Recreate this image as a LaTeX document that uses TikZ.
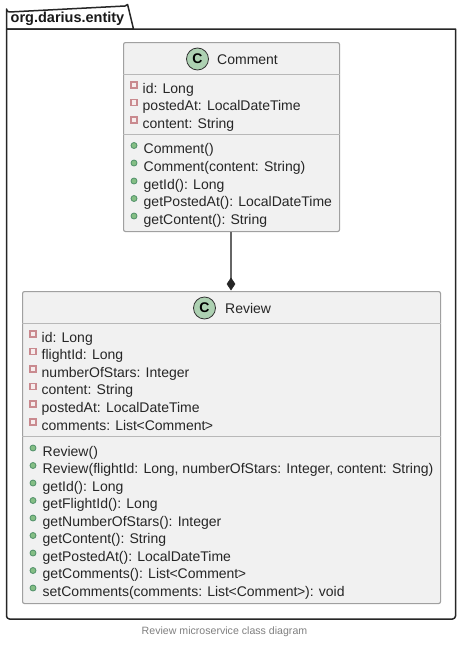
\documentclass[tikz,border=0pt]{standalone}
\usepackage{fontspec}
\setmainfont{Liberation Sans}
\usetikzlibrary{arrows.meta}
\definecolor{boxfill}{HTML}{F1F1F1}
\definecolor{boxline}{HTML}{A0A0A0}
\definecolor{sepline}{HTML}{B8B8B8}
\definecolor{circfill}{HTML}{ADD1B2}
\definecolor{privline}{HTML}{C98A8F}
\definecolor{privfill}{HTML}{F6ECEC}
\definecolor{publine}{HTML}{4F8F68}
\definecolor{pubfill}{HTML}{84BE84}
\tikzset{
  pkg/.style={draw=black!85,line width=1.5pt,fill=white,line join=round},
  classbox/.style={draw=boxline,fill=boxfill,line width=1.1pt,rounded corners=2pt,inner sep=0pt,anchor=north west},
  sep/.style={draw=sepline,line width=1.3pt},
  member/.style={anchor=base west,inner sep=0pt,font=\fontsize{14}{14}\selectfont,text=black!85},
  title/.style={anchor=base west,inner sep=0pt,font=\fontsize{14}{14}\selectfont,text=black!85},
  spot/.style={circle,draw=black!80,fill=circfill,line width=.8pt,minimum size=22pt,inner sep=0pt,font=\fontsize{14}{14}\selectfont\bfseries},
  priv/.style={draw=privline,fill=privfill,line width=1.3pt,minimum size=6pt,inner sep=0pt},
  pub/.style={circle,draw=publine,fill=pubfill,line width=.8pt,minimum size=6pt,inner sep=0pt},
  conn/.style={draw=black!60,line width=1.1pt},
  diam/.style={draw=black!85,fill=black!85,line width=.5pt},
}
\newcommand{\privrow}[3]{%
  \node[priv] at (#1,#2-3) {};
  \node[member] at (#1+8.5,#2+5.2) {#3};}
\newcommand{\pubrow}[3]{%
  \node[pub] at (#1,#2-3) {};
  \node[member] at (#1+9.5,#2+5.2) {#3};}
\newcommand{\la}{\kern-.5pt<}
\newcommand{\ra}{\kern-.5pt>}
\begin{document}
\begin{tikzpicture}[x=1pt,y=-1pt]
\useasboundingbox (0,0) rectangle (463,645);
\fill[white] (0,0) rectangle (463,645);
% package
\path[pkg] (6.5,29) -- (6.5,9) arc[start angle=180,end angle=90,radius=3] -- (125,6) arc[start angle=90,end angle=30,radius=3] -- (133.5,29) -- cycle;
\path[pkg] (6.5,29) -- (455.5,29) -- (455.5,616) arc[start angle=0,end angle=90,radius=3] -- (9.5,619) arc[start angle=90,end angle=180,radius=3] -- cycle;
\node[anchor=base west,inner sep=0pt,font=\fontsize{14.5}{14}\selectfont\bfseries,text=black!90] (pkgname) at (10.5,23) {org.darius.entity};
% Comment
\node[classbox,minimum width=216pt,minimum height=189pt] (comment) at (123,42) {};
\node[spot] (cspot) at (197.5,59) {C};
\node[title] (ctitle) at (217,64) {Comment};
\draw[sep] (comment.west |- 0,74.5) -- (comment.east |- 0,74.5);
\draw[sep] (comment.west |- 0,134.5) -- (comment.east |- 0,134.5);
\privrow{134}{88}{id: Long}
\privrow{134}{105.5}{postedAt: LocalDateTime}
\privrow{134}{123}{content: String}
\pubrow{134}{148.5}{Comment()}
\pubrow{134}{166}{Comment(content: String)}
\pubrow{134}{184}{getId(): Long}
\pubrow{134}{201.5}{getPostedAt(): LocalDateTime}
\pubrow{134}{219}{getContent(): String}
% Review
\node[classbox,minimum width=418pt,minimum height=312pt] (review) at (22,291) {};
\node[spot] (rspot) at (204.5,308) {C};
\node[title] (rtitle) at (225,313) {Review};
\draw[sep] (review.west |- 0,323.5) -- (review.east |- 0,323.5);
\draw[sep] (review.west |- 0,436.5) -- (review.east |- 0,436.5);
\privrow{33}{337}{id: Long}
\privrow{33}{354.5}{flightId: Long}
\privrow{33}{372}{numberOfStars: Integer}
\privrow{33}{389.5}{content: String}
\privrow{33}{407}{postedAt: LocalDateTime}
\privrow{33}{425}{comments: List\la Comment\ra}
\pubrow{33}{451}{Review()}
\pubrow{33}{468.5}{Review(flightId: Long, numberOfStars: Integer, content: String)}
\pubrow{33}{486}{getId(): Long}
\pubrow{33}{503.5}{getFlightId(): Long}
\pubrow{33}{521}{getNumberOfStars(): Integer}
\pubrow{33}{538.5}{getContent(): String}
\pubrow{33}{556}{getPostedAt(): LocalDateTime}
\pubrow{33}{573.5}{getComments(): List\la Comment\ra}
\pubrow{33}{591}{setComments(comments: List\la Comment\ra): void}
% connector
\coordinate (ctop) at (comment.south -| 231,0);
\coordinate (rtop) at (review.north -| 231,0);
\draw[conn] (ctop) -- ([yshift=12pt]rtop);
\path[diam] ([yshift=1pt]rtop) -- ++(-4,-6) -- ++(4,-6) -- ++(4,6) -- cycle;
% caption
\node[anchor=center,inner sep=0pt,font=\fontsize{10.6}{10}\selectfont,text=black!50] (caption) at (224.5,631.5) {Review microservice class diagram};
\end{tikzpicture}
\end{document}
